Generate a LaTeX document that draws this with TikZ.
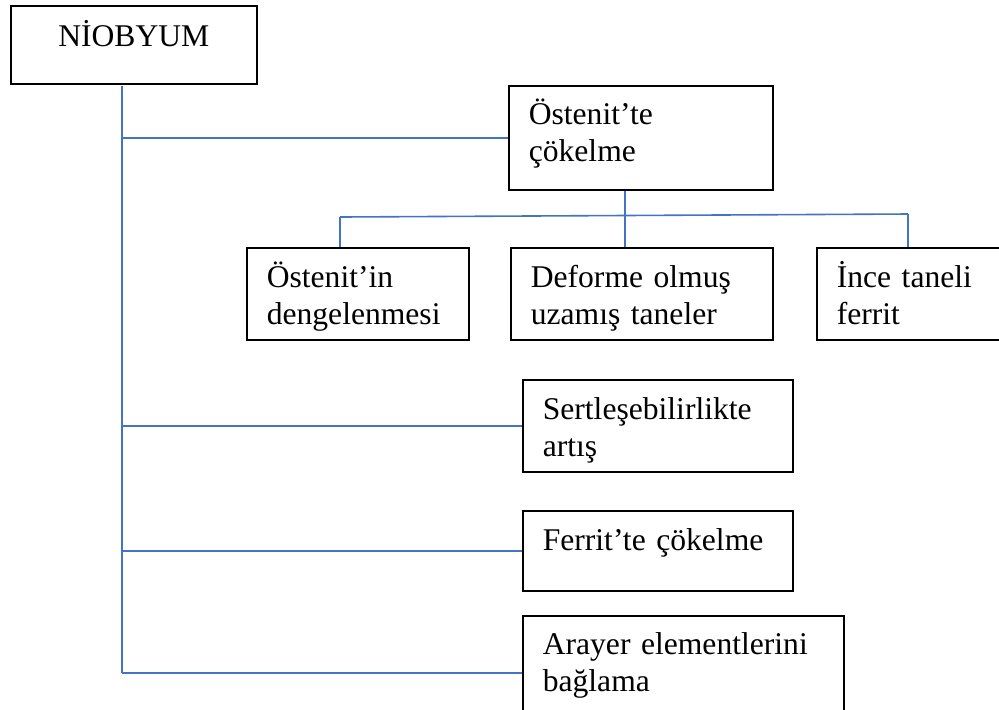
\documentclass[tikz,border=0pt]{standalone}
\usepackage{fontspec}
\setmainfont{Liberation Serif}
\definecolor{hatmavi}{HTML}{4472C4}
\tikzset{
  kutu/.style={draw=black, line width=0.8pt, anchor=north west, inner xsep=10pt, inner ysep=0pt,
    align=left, font=\fontsize{15.8}{18.5}\selectfont},
  hat/.style={draw=hatmavi, line width=0.8pt}
}
\begin{document}
\begin{tikzpicture}[x=0.5pt,y=-0.5pt]
  \clip (0,0) rectangle (999,709);
  % kutular
  \node[kutu, align=center, text width=103pt, text height=20.5pt, text depth=18.5pt] (nio) at (10,5) {NİOBYUM};
  \node[kutu, text width=112pt, text height=19.5pt, text depth=32.5pt] (ost) at (508,85) {Östenit’te\\çökelme};
  \node[kutu, text width=91pt, text height=20pt, text depth=26pt] (osin) at (246,247) {Östenit’in\\dengelenmesi};
  \node[kutu, text width=111pt, text height=20pt, text depth=26pt] (def) at (510,247) {Deforme olmuş\\uzamış taneler};
  \node[kutu, text width=130pt, text height=20pt, text depth=26pt] (ince) at (816,247) {İnce taneli\\ferrit};
  \node[kutu, text width=115pt, text height=20pt, text depth=26pt] (sert) at (522,379) {Sertleşebilirlikte\\artış};
  \node[kutu, text width=115pt, text height=20pt, text depth=20pt] (fer) at (522,510) {Ferrit’te çökelme};
  \node[kutu, text width=140.5pt, text height=19.5pt, text depth=50pt] (ara) at (522,615) {Arayer elementlerini\\bağlama};
  % ana govde
  \coordinate (govde ust) at (122,86);
  \coordinate (govde alt) at (122,673);
  \draw[hat] (govde ust) -- (govde alt);
  \draw[hat] (ost.west -| govde ust) -- (ost.west);
  \draw[hat] (sert.west -| govde ust) -- (sert.west);
  \draw[hat] (fer.west -| govde ust) -- (fer.west);
  \draw[hat] (govde alt) -- (govde alt -| ara.west);
  % alt dallar
  \coordinate (ayrim) at ([xshift=-8pt]ost.south);
  \coordinate (bara sol) at (340,217);
  \coordinate (bara sag) at (908,214);
  \draw[hat] (ayrim) -- (ayrim |- def.north);
  \draw[hat] (bara sol) -- (bara sag);
  \draw[hat] (bara sol) -- (bara sol |- osin.north);
  \draw[hat] (bara sag) -- (bara sag |- ince.north);
\end{tikzpicture}
\end{document}
